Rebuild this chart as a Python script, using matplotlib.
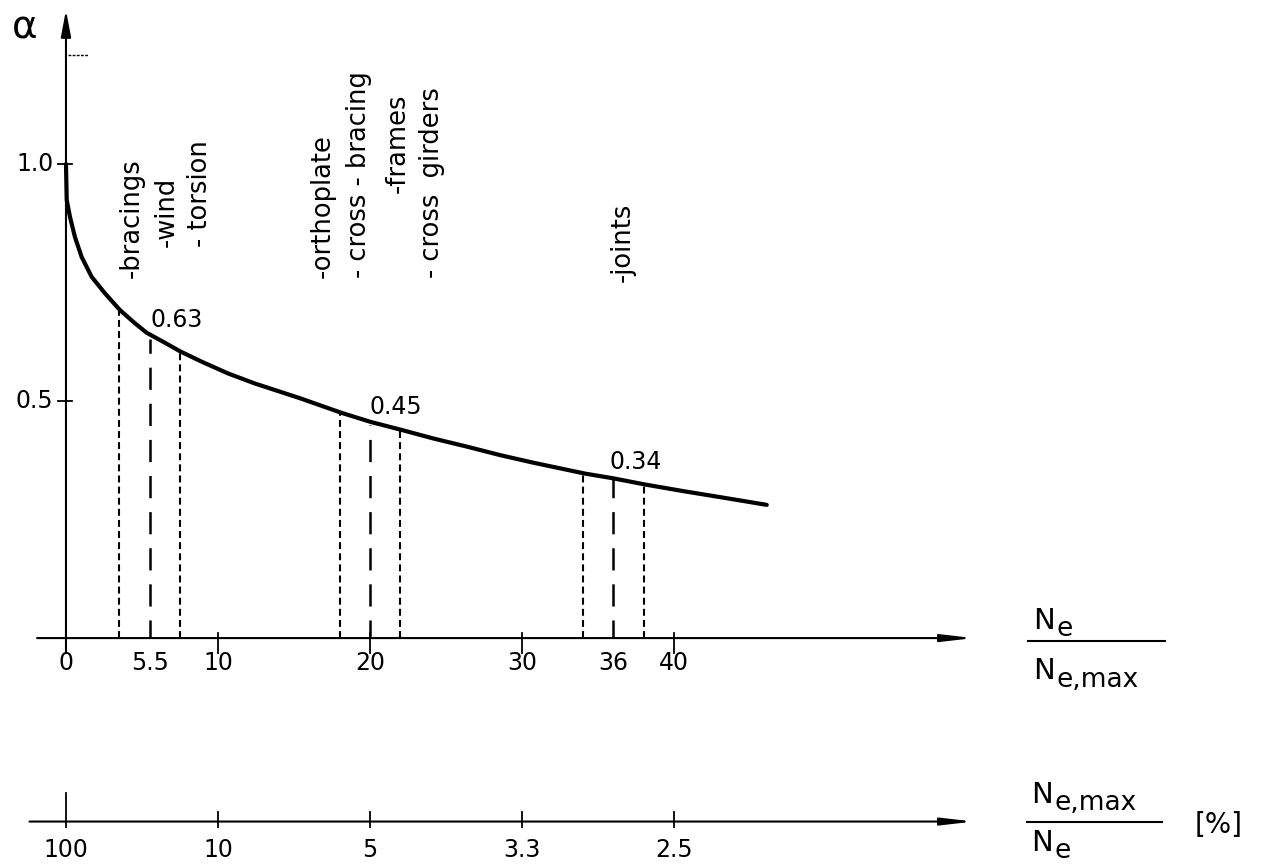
import numpy as np
import matplotlib.pyplot as plt

plt.rcParams['font.family'] = ['DejaVu Sans']
plt.rcParams['lines.scale_dashes'] = False

# curve alpha vs Ne/Ne,max [%]
ratio = [0.0, 0.05, 0.26, 0.59, 1.03, 1.69, 2.57, 3.55, 4.54, 5.31, 6.51,
         7.5, 8.93, 10.68, 12.43, 15.39, 18.14, 20.04, 22.09, 24.17,
         26.36, 28.55, 30.74, 34.14, 36.0, 38.09, 40.61, 43.47, 46.1]
alpha = [1.0, 0.924, 0.889, 0.846, 0.804, 0.762, 0.727, 0.692, 0.664, 0.644,
         0.623, 0.605, 0.583, 0.558, 0.537, 0.506, 0.475, 0.456, 0.439,
         0.421, 0.404, 0.386, 0.370, 0.347, 0.337, 0.324, 0.310, 0.295, 0.281]

# marked ranges: centre value with lower / upper bound
centre_x = [5.5, 20, 36]
centre_val = [0.63, 0.45, 0.34]
lower_x = [3.5, 18, 34]
upper_x = [7.5, 22, 38]

top_ticks = [0, 10, 20, 30, 40]
top_labels = ['0', '5.5', '10', '20', '30', '36', '40']
top_label_pos = [0, 5.5, 10, 20, 30, 36, 40]
bottom_ticks = [0, 10, 20, 30, 40]
bottom_labels = ['100', '10', '5', '3.3', '2.5']
y_ticks = [0.5, 1.0]
y_labels = ['0.5', '1.0']

# rotated member labels: (x, bottom y, text)
members = [(4.34, 0.759, '-bracings'), (6.64, 0.825, '-wind'),
           (8.82, 0.825, '- torsion'), (16.9, 0.759, '-orthoplate'),
           (19.3, 0.759, '- cross - bracing'), (21.8, 0.939, '-frames'),
           (24.1, 0.759, '- cross  girders'), (36.6, 0.751, '-joints')]
value_pos = [(7.3, 0.671), (21.7, 0.487), (37.5, 0.371)]

fig = plt.figure(figsize=(12.69, 8.68), dpi=100)
ax = fig.add_axes([0, 0, 1, 1])
ax.set_xlim(-4.34, 79.14)
ax.set_ylim(-0.485, 1.346)
ax.axis('off')

y_bot = -0.387
arrow = dict(arrowstyle='-|>,head_length=1.9,head_width=0.22', lw=1.5,
             color='black', shrinkA=0, shrinkB=0, mutation_scale=10)

# axes
ax.annotate('', xy=(59.7, 0), xytext=(-1.9, 0), arrowprops=arrow)
ax.annotate('', xy=(59.7, y_bot), xytext=(-2.4, y_bot), arrowprops=arrow)
ax.annotate('', xy=(0, 1.325), xytext=(0, -0.03),
            arrowprops=dict(arrowstyle='-|>,head_length=1.6,head_width=0.3',
                            lw=1.5, color='black', shrinkA=0, shrinkB=0,
                            mutation_scale=10))

for t in top_ticks:
    ax.plot([t, t], [-0.032, 0.01], color='black', lw=1.3)
for x, lab in zip(top_label_pos, top_labels):
    ax.text(x, -0.053, lab, ha='center', va='center', fontsize=17)

for i, t in enumerate(bottom_ticks):
    lo = y_bot + (0.06 if i == 0 else 0.02)
    ax.plot([t, t], [y_bot - 0.012, lo], color='black', lw=1.3)
for t, lab in zip(bottom_ticks, bottom_labels):
    ax.text(t, -0.447, lab, ha='center', va='center', fontsize=17)

for t, lab in zip(y_ticks, y_labels):
    ax.plot([-0.5, 0.4], [t, t], color='black', lw=1.3)
    ax.text(-2.05, t, lab, ha='center', va='center', fontsize=17)
ax.plot([0.15, 1.45], [1.23, 1.23], color='black', lw=1.0, ls=(0, (2, 1)))
ax.text(-2.7, 1.289, 'α', ha='center', va='center', fontsize=28)

# curve and range lines
ax.plot(ratio, alpha, color='black', lw=3, solid_capstyle='round',
        solid_joinstyle='round')
for xl, xc, xu, v in zip(lower_x, centre_x, upper_x, centre_val):
    for xe in (xl, xu):
        ax.plot([xe, xe], [0, np.interp(xe, ratio, alpha)], color='black',
                lw=1.5, ls=(0, (5, 3)))
    ax.plot([xc, xc], [0, v], color='black', lw=1.8, ls=(3, (16, 10)))

for (x, y), v in zip(value_pos, centre_val):
    ax.text(x, y, f'{v:.2f}', ha='center', va='center', fontsize=17)

for x, y, txt in members:
    ax.text(x, y, txt, rotation=90, ha='center', va='bottom', fontsize=18.5)


def fraction(x0, x1, y, num, den, ynum, yden):
    ax.plot([x0, x1], [y, y], color='black', lw=1.5)
    for sub, yy in ((num, ynum), (den, yden)):
        ax.annotate('N', xy=(x0 + 0.3, yy), ha='left', va='center', fontsize=21)
        ax.annotate(sub, xy=(x0 + 0.3, yy), xytext=(17, -6),
                    textcoords='offset points', ha='left', va='center',
                    fontsize=19)


fraction(63.3, 72.3, -0.006, 'e', 'e,max', 0.036, -0.07)
fraction(63.2, 72.1, y_bot, 'e,max', 'e', -0.33, -0.432)
ax.text(75.8, -0.394, '[%]', ha='center', va='center', fontsize=20)

fig.savefig('out.png', dpi=100)
